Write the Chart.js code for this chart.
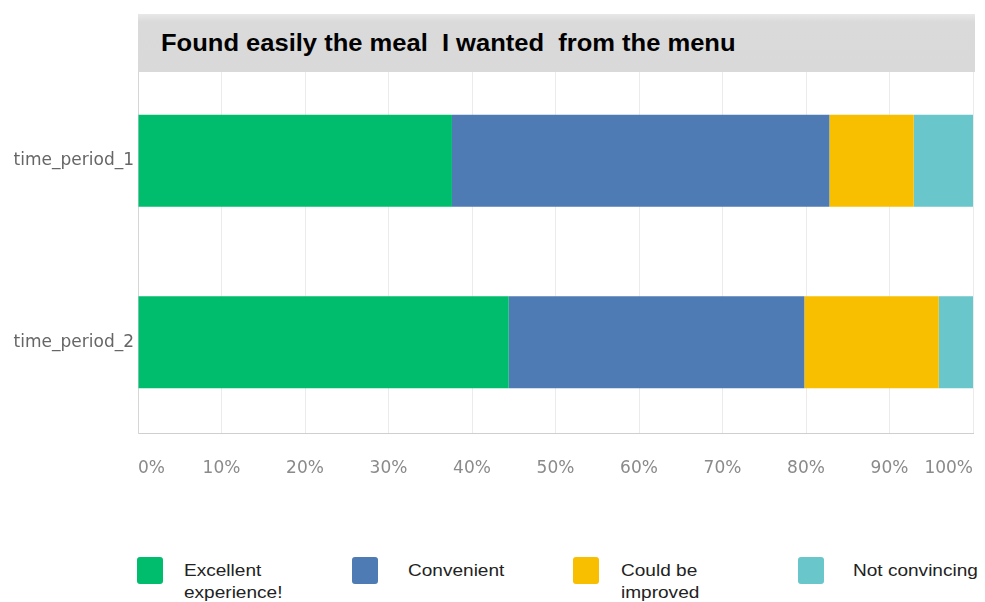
<!DOCTYPE html>
<html>
<head>
<meta charset="utf-8">
<script src="https://cdn.jsdelivr.net/npm/chart.js@4.4.1/dist/chart.umd.min.js"></script>
<style>
    body {
        margin: 0;
        background: #ffffff;
        width: 985px;
        height: 602px;
        position: relative;
        overflow: hidden;
    }

    #wrap {
        position: absolute;
        left: 0;
        top: 0;
        width: 985px;
        height: 490px;
    }

    #title {
        position: absolute;
        left: 138px;
        top: 14px;
        width: 837px;
        height: 58px;
        background: linear-gradient(#e8e8e8 0px, #dadada 8px, #d9d9d9 100%);
        box-sizing: border-box;
        padding-left: 23px;
    }

    #title span {
        display: inline-block;
        font-family: "Liberation Sans", Arial, sans-serif;
        font-weight: bold;
        font-size: 23px;
        line-height: 58px;
        color: #000;
        white-space: pre;
        transform: scaleX(1.11);
        transform-origin: left center;
    }

    .legend-item {
        position: absolute;
        top: 557px;
    }

    .swatch {
        position: absolute;
        left: 0;
        top: 0;
        width: 26px;
        height: 27px;
        border-radius: 3px;
    }

    .legend-text {
        position: absolute;
        top: 3px;
        font-family: "Liberation Sans", Arial, sans-serif;
        font-size: 17px;
        line-height: 22px;
        color: #222;
        white-space: pre;
        transform: scaleX(1.12);
        transform-origin: left top;
    }
</style>
</head>
<body>

<div id="wrap"><canvas id="myChart"></canvas></div>
<div id="title"><span>Found easily the meal  I wanted  from the menu</span></div>
<div id="legend"></div>

<script>

// rows of the chart
let periods = ["time_period_1", "time_period_2"];

// answer categories, one stacked segment each
let answers = ["Excellent\nexperience!", "Convenient", "Could be\nimproved", "Not convincing"];
let answerColors = ["#00bd6e", "#4e7bb4", "#f8be00", "#69c6ca"];

// share of answers in %, per period
let excellent = [37.6, 44.4];
let convenient = [45.2, 35.4];
let improvable = [10.1, 16.1];
let notConvincing = [7.1, 4.1];

let xTicks = [0, 10, 20, 30, 40, 50, 60, 70, 80, 90, 100];

// legend entries: swatch left edge and gap to the text
let legendLeft = [137, 352, 573, 798];
let legendTextGap = [47, 56, 48, 55];

let seriesValues = [excellent, convenient, improvable, notConvincing];

let chart = new Chart(document.getElementById("myChart").getContext("2d"), {
    type: "bar",

    data: {
        labels: periods,
        datasets: seriesValues.map((values, i) => ({
            label: answers[i],
            data: values,
            backgroundColor: answerColors[i],
            borderWidth: 0,
            categoryPercentage: 0.507,
            barPercentage: 1
        }))
    },

    options: {
        indexAxis: "y",
        responsive: true,
        maintainAspectRatio: false,
        animation: false,

        layout: {
            padding: { top: 70, right: 12, bottom: 0, left: 0 }
        },

        plugins: {
            legend: { display: false },
            tooltip: { enabled: false }
        },

        scales: {

            x: {
                stacked: true,
                min: 0,
                max: 100,
                afterBuildTicks: axis => {
                    axis.ticks = xTicks.map(v => ({ value: v }));
                },
                afterFit: axis => {
                    // labels are aligned inside, so no extra side room
                    axis.height = 57;
                    axis.paddingLeft = 0;
                    axis.paddingRight = 0;
                },
                ticks: {
                    align: "inner",
                    padding: 25,
                    color: "#8a8a8a",
                    font: { family: "DejaVu Sans", size: 17 },
                    callback: v => v + "%"
                },
                grid: {
                    color: "#ebebeb",
                    drawTicks: false
                },
                border: {
                    color: "#cfcfcf",
                    width: 1
                }
            },

            y: {
                stacked: true,
                afterFit: axis => {
                    axis.width = 138;
                    axis.paddingTop = 0;
                    axis.paddingBottom = 0;
                },
                ticks: {
                    padding: 4,
                    color: "#666666",
                    font: { family: "DejaVu Sans", size: 17 }
                },
                grid: {
                    display: false,
                    drawTicks: false
                },
                border: {
                    color: "#d6d6d6",
                    width: 1
                }
            }

        }
    }
});

/* Legend */
let legend = document.getElementById("legend");

answers.forEach((name, i) => {
    let item = document.createElement("div");
    item.className = "legend-item";
    item.style.left = legendLeft[i] + "px";

    let swatch = document.createElement("div");
    swatch.className = "swatch";
    swatch.style.background = answerColors[i];

    let text = document.createElement("div");
    text.className = "legend-text";
    text.style.left = legendTextGap[i] + "px";
    text.textContent = name;

    item.appendChild(swatch);
    item.appendChild(text);
    legend.appendChild(item);
});

</script>
</body>
</html>
